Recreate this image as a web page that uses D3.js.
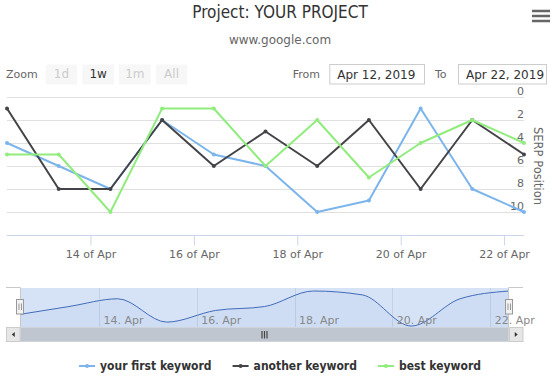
<!DOCTYPE html>
<html>
<head>
<meta charset="utf-8">
<script src="https://cdn.jsdelivr.net/npm/d3@7"></script>
<style>
  body { margin: 0; background: #fff; }
  svg { display: block; font-family: "DejaVu Sans", Verdana, sans-serif; }
</style>
</head>
<body>
<div id="chart"></div>
<script>
// data
const dates = [
  '2019-04-12T09:15', '2019-04-13T09:15', '2019-04-14T09:15', '2019-04-15T09:15',
  '2019-04-16T09:15', '2019-04-17T09:15', '2019-04-18T09:15', '2019-04-19T09:15',
  '2019-04-20T09:15', '2019-04-21T09:15', '2019-04-22T09:15'
]
const firstKeyword = [4, 6, 8, 2, 5, 6, 10, 9, 1, 8, 10]
const anotherKeyword = [1, 8, 8, 2, 6, 3, 6, 2, 8, 2, 5]
const bestKeyword = [5, 5, 10, 1, 1, 6, 2, 7, 4, 2, 4]
const seriesNames = ['your first keyword', 'another keyword', 'best keyword']
const seriesColors = ['#7cb5ec', '#434348', '#90ed7d']
const xTicks = ['2019-04-14', '2019-04-16', '2019-04-18', '2019-04-20', '2019-04-22']
const yTicks = [0, 2, 4, 6, 8, 10]
const zoomButtons = ['1d', '1w', '1m', 'All']
const activeButtons = ['1w']
const fromDate = 'Apr 12, 2019'
const toDate = 'Apr 22, 2019'

const parseTime = d3.utcParse('%Y-%m-%dT%H:%M')
const parseDay = d3.utcParse('%Y-%m-%d')
const times = dates.map(parseTime)
const tickTimes = xTicks.map(parseDay)
const series = [firstKeyword, anotherKeyword, bestKeyword].map((values, i) => ({
  name: seriesNames[i],
  color: seriesColors[i],
  points: values.map((v, j) => ({ t: times[j], v }))
}))

const width = 552
const height = 384

const svg = d3.select('#chart').append('svg')
  .attr('width', width)
  .attr('height', height)

// title
svg.append('text')
  .attr('x', 280).attr('y', 18)
  .attr('text-anchor', 'middle')
  .attr('font-family', '"DejaVu Sans Condensed", "DejaVu Sans", sans-serif')
  .attr('font-size', 17)
  .attr('fill', '#333')
  .text('Project: YOUR PROJECT')

svg.append('text')
  .attr('x', 280).attr('y', 44)
  .attr('text-anchor', 'middle')
  .attr('font-size', 12)
  .attr('fill', '#666')
  .text('www.google.com')

// menu button
svg.append('g')
  .selectAll('rect')
  .data([11, 16, 21])
  .enter().append('rect')
  .attr('x', 532).attr('y', d => d - 1.25)
  .attr('width', 18).attr('height', 2.5)
  .attr('fill', '#666')

// range selector
const rs = svg.append('g').attr('font-size', 11)
rs.append('text').attr('x', 6).attr('y', 78).attr('fill', '#666').text('Zoom')
const btn = rs.selectAll('g.btn')
  .data(zoomButtons)
  .enter().append('g')
  .attr('transform', (d, i) => `translate(${45.7 + i * 36.7},64.5)`)
btn.append('rect')
  .attr('width', 31.5).attr('height', 20)
  .attr('fill', '#f7f7f7')
btn.append('text')
  .attr('x', 15.75).attr('y', 13.5)
  .attr('text-anchor', 'middle')
  .attr('font-size', 12)
  .attr('fill', d => activeButtons.includes(d) ? '#333' : '#ccc')
  .text(d => d)

const inputs = [
  { label: 'From', lx: 292.7, bx: 329.3, bw: 94.7, value: fromDate },
  { label: 'To', lx: 435, bx: 458, bw: 88, value: toDate }
]
inputs.forEach(d => {
  rs.append('text').attr('x', d.lx).attr('y', 78).attr('fill', '#666').text(d.label)
  rs.append('rect')
    .attr('x', d.bx + 0.5).attr('y', 64.5)
    .attr('width', d.bw).attr('height', 19.5)
    .attr('fill', '#fff').attr('stroke', '#ccc')
  rs.append('text')
    .attr('x', d.bx + 8).attr('y', 78.5)
    .attr('font-size', 12)
    .attr('fill', '#333')
    .text(d.value)
})

// main plot
const plot = { left: 7, right: 524, top: 97, bottom: 235 }
const x = d3.scaleTime()
  .domain(d3.extent(times))
  .range([plot.left, plot.right])
const y = d3.scaleLinear()
  .domain([0, 12])
  .range([plot.top, plot.bottom])

svg.append('g')
  .selectAll('line')
  .data(yTicks)
  .enter().append('line')
  .attr('x1', plot.left).attr('x2', plot.right)
  .attr('y1', d => Math.round(y(d)) + 0.5).attr('y2', d => Math.round(y(d)) + 0.5)
  .attr('stroke', '#e0e0e0')

svg.append('g')
  .selectAll('text')
  .data(yTicks)
  .enter().append('text')
  .attr('x', plot.right).attr('y', d => y(d) - 2)
  .attr('text-anchor', 'end')
  .attr('font-size', 11)
  .attr('fill', '#666')
  .text(d => d)

svg.append('text')
  .attr('transform', `translate(534,${(plot.top + plot.bottom) / 2}) rotate(90)`)
  .attr('text-anchor', 'middle')
  .attr('font-size', 11.5)
  .attr('fill', '#666')
  .text('SERP Position')

const xAxis = d3.axisBottom(x)
  .tickValues(tickTimes)
  .tickFormat(d3.utcFormat('%-d of %b'))
  .tickSize(10)
  .tickPadding(5)
const gx = svg.append('g')
  .attr('transform', `translate(0,${plot.bottom + 0.5})`)
  .call(xAxis)
gx.select('.domain').attr('stroke', '#ccd6eb').attr('d', `M${plot.left},0H${plot.right}`)
gx.selectAll('.tick line').attr('stroke', '#ccd6eb')
gx.selectAll('.tick text')
  .attr('fill', '#666')
  .attr('font-size', 11)
  .attr('font-family', '"DejaVu Sans", sans-serif')

const line = d3.line()
  .x(d => x(d.t))
  .y(d => y(d.v))

const sg = svg.append('g')
  .selectAll('g')
  .data(series)
  .enter().append('g')
sg.append('path')
  .attr('d', d => line(d.points))
  .attr('fill', 'none')
  .attr('stroke', d => d.color)
  .attr('stroke-width', 2)
  .attr('stroke-linejoin', 'round')
  .attr('stroke-linecap', 'round')
sg.selectAll('circle')
  .data(d => d.points.map(p => ({ ...p, color: d.color })))
  .enter().append('circle')
  .attr('cx', d => x(d.t)).attr('cy', d => y(d.v))
  .attr('r', 2)
  .attr('fill', d => d.color)

// navigator
const nav = { left: 20, right: 509, top: 288, bottom: 328 }
const nx = d3.scaleTime()
  .domain(d3.extent(times))
  .range([nav.left, nav.right])
const ny = d3.scaleLinear()
  .domain(d3.extent(firstKeyword))
  .range([326, 291])

const ng = svg.append('g')
ng.selectAll('line.grid')
  .data(tickTimes)
  .enter().append('line')
  .attr('x1', d => Math.round(nx(d)) + 0.5).attr('x2', d => Math.round(nx(d)) + 0.5)
  .attr('y1', nav.top).attr('y2', nav.bottom)
  .attr('stroke', '#e6e6e6')

const navPoints = series[0].points
ng.append('path')
  .datum(navPoints)
  .attr('d', d3.area().x(d => nx(d.t)).y0(nav.bottom).y1(d => ny(d.v)).curve(d3.curveMonotoneX))
  .attr('fill', '#335cad')
  .attr('fill-opacity', 0.05)
ng.append('path')
  .datum(navPoints)
  .attr('d', d3.line().x(d => nx(d.t)).y(d => ny(d.v)).curve(d3.curveMonotoneX))
  .attr('fill', 'none')
  .attr('stroke', '#335cad')
  .attr('stroke-width', 1)

ng.append('rect')
  .attr('x', nav.left).attr('y', nav.top)
  .attr('width', nav.right - nav.left).attr('height', nav.bottom - nav.top)
  .attr('fill', 'rgba(102,150,220,0.27)')

ng.selectAll('text')
  .data(tickTimes)
  .enter().append('text')
  .attr('x', d => nx(d) + 4.5).attr('y', 324)
  .attr('font-size', 11)
  .attr('fill', '#888')
  .text(d3.utcFormat('%-d. %b'))

ng.append('path')
  .attr('d', `M6,${nav.top - 0.5}H${nav.left + 0.5}V${nav.bottom}M${nav.right - 0.5},${nav.bottom}V${nav.top - 0.5}H523`)
  .attr('fill', 'none')
  .attr('stroke', '#c8c8c8')

// scrollbar
const sb = svg.append('g')
sb.append('rect')
  .attr('x', 6.5).attr('y', 327.5).attr('width', 516).attr('height', 14)
  .attr('fill', '#f2f2f2').attr('stroke', '#f2f2f2')
sb.append('rect')
  .attr('x', nav.left + 0.5).attr('y', 327.5).attr('width', nav.right - nav.left - 1).attr('height', 14)
  .attr('fill', '#bfc6cf').attr('stroke', '#d0d5db')
sb.selectAll('line.rifle')
  .data([-2.5, 0, 2.5])
  .enter().append('line')
  .attr('x1', d => (nav.left + nav.right) / 2 + d).attr('x2', d => (nav.left + nav.right) / 2 + d)
  .attr('y1', 331).attr('y2', 338.5)
  .attr('stroke', '#444')
  .attr('stroke-width', 1.2)
const sbButtons = [
  { x: 6.5, dir: -1 },
  { x: nav.right + 0.5, dir: 1 }
]
sbButtons.forEach(b => {
  sb.append('rect')
    .attr('x', b.x).attr('y', 327.5).attr('width', 13.5).attr('height', 14)
    .attr('fill', '#e6e6e6').attr('stroke', '#ccc')
  const cx = b.x + 6.75
  sb.append('path')
    .attr('d', `M${cx + 1.5 * b.dir},334.5L${cx - 1.5 * b.dir},332L${cx - 1.5 * b.dir},337Z`)
    .attr('fill', '#333')
})

// handles
const hg = svg.append('g')
  .selectAll('g')
  .data([nav.left, nav.right])
  .enter().append('g')
  .attr('transform', d => `translate(${d},299.5)`)
hg.append('rect')
  .attr('x', -3.5).attr('y', 0).attr('width', 7).attr('height', 14.5)
  .attr('fill', '#f2f2f2').attr('stroke', '#999')
hg.append('path')
  .attr('d', 'M-1,4V10.5M1.5,4V10.5')
  .attr('stroke', '#999')

// legend
const legend = svg.append('g')
  .attr('font-family', '"DejaVu Sans Condensed", "DejaVu Sans", sans-serif')
  .attr('font-size', 12)
  .attr('font-weight', 'bold')
const items = legend.selectAll('g')
  .data(series)
  .enter().append('g')
items.append('line')
  .attr('x1', 0).attr('x2', 16)
  .attr('stroke', d => d.color).attr('stroke-width', 2)
items.append('circle')
  .attr('cx', 8).attr('r', 2)
  .attr('fill', d => d.color)
items.append('text')
  .attr('x', 21).attr('y', 4)
  .attr('fill', '#333')
  .text(d => d.name)
const itemWidths = []
items.each(function () {
  itemWidths.push(21 + this.querySelector('text').getComputedTextLength())
})
const totalWidth = d3.sum(itemWidths) + 21 * (itemWidths.length - 1)
let lx = 280 - totalWidth / 2
items.attr('transform', (d, i) => {
  const t = `translate(${lx},366)`
  lx += itemWidths[i] + 21
  return t
})
</script>
</body>
</html>
